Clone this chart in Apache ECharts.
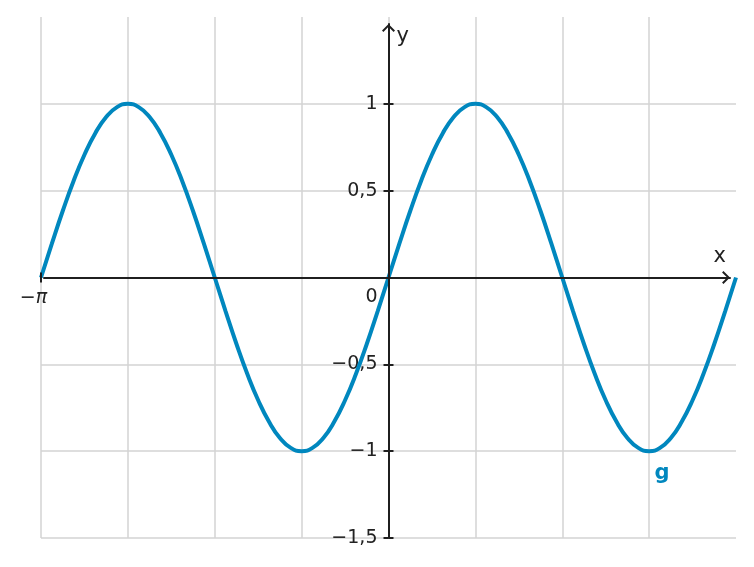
<!DOCTYPE html>
<html><head><meta charset="utf-8">
<script src="https://cdn.jsdelivr.net/npm/echarts@6/dist/echarts.min.js"></script>
<style>html,body{margin:0;padding:0;background:#fff}#c{width:754px;height:567px}</style>
</head><body><div id="c"></div>
<script>
// x values in multiples of π
const xValues = [-1, -0.96875, -0.9375, -0.90625, -0.875, -0.84375, -0.8125, -0.78125,
  -0.75, -0.71875, -0.6875, -0.65625, -0.625, -0.59375, -0.5625, -0.53125,
  -0.5, -0.46875, -0.4375, -0.40625, -0.375, -0.34375, -0.3125, -0.28125,
  -0.25, -0.21875, -0.1875, -0.15625, -0.125, -0.09375, -0.0625, -0.03125,
  0, 0.03125, 0.0625, 0.09375, 0.125, 0.15625, 0.1875, 0.21875,
  0.25, 0.28125, 0.3125, 0.34375, 0.375, 0.40625, 0.4375, 0.46875,
  0.5, 0.53125, 0.5625, 0.59375, 0.625, 0.65625, 0.6875, 0.71875,
  0.75, 0.78125, 0.8125, 0.84375, 0.875, 0.90625, 0.9375, 0.96875, 1];
const gValues = [0, 0.195, 0.383, 0.556, 0.707, 0.831, 0.924, 0.981,
  1, 0.981, 0.924, 0.831, 0.707, 0.556, 0.383, 0.195,
  0, -0.195, -0.383, -0.556, -0.707, -0.831, -0.924, -0.981,
  -1, -0.981, -0.924, -0.831, -0.707, -0.556, -0.383, -0.195,
  0, 0.195, 0.383, 0.556, 0.707, 0.831, 0.924, 0.981,
  1, 0.981, 0.924, 0.831, 0.707, 0.556, 0.383, 0.195,
  0, -0.195, -0.383, -0.556, -0.707, -0.831, -0.924, -0.981,
  -1, -0.981, -0.924, -0.831, -0.707, -0.556, -0.383, -0.195, 0];
const yLabelValues = [-1.5, -1, -0.5, 0, 0.5, 1];
const yTickValues = [-1.5, -1, -0.5, 0.5, 1];
const xLabelValues = [-1];
const seriesName = 'g';
const gLabelIndex = 56;

const FONT = 'DejaVu Sans';
const AXIS = '#1f1f1f';
const TEXT = '#222222';
const GRIDC = '#d3d3d3';
const CURVE = '#0087be';
const HIDDEN_LINE = {color: 'rgba(0,0,0,0)', width: 1, opacity: 0};
const chevron = 'path://M6.5,0L13,6.5L11.6,7.9L6.5,2.8L1.4,7.9L0,6.5Z';

function fmtNum(v) {
  return (v < 0 ? '\u2212' : '') + String(Math.abs(v)).replace('.', ',');
}

// main grid geometry -> auxiliary axis-line grid ranges and axis offsets
const main = {left: 41, right: 18, top: 17, bottom: 29};
const W = 754, H = 567;
const pxPerX = (W - main.left - main.right) / 2;
const pxPerY = (H - main.top - main.bottom) / 3;
const zeroX = main.left + pxPerX;
const zeroY = main.top + 1.5 * pxPerY;
const yAxisOffset = -(zeroX - main.left);
const xAxisOffset = -((H - main.bottom) - zeroY);
const aux = {left: 44, right: 24, top: 24, bottom: 29};
const auxXMin = (aux.left - zeroX) / pxPerX;
const auxXMax = (W - aux.right - zeroX) / pxPerX;
const auxYMax = -1.5 + (H - aux.top - aux.bottom) / pxPerY;

const chart = echarts.init(document.getElementById('c'), null, {renderer: 'canvas'});
chart.setOption({
  animation: false,
  backgroundColor: '#fff',
  textStyle: {fontFamily: FONT},
  grid: [
    Object.assign({outerBoundsMode: 'none', containLabel: false}, main),
    Object.assign({outerBoundsMode: 'none', containLabel: false}, aux)
  ],
  xAxis: [
    {
      gridIndex: 0, type: 'value', min: -1, max: 1, interval: 0.25,
      position: 'bottom', offset: xAxisOffset,
      axisLine: {show: true, onZero: false, lineStyle: HIDDEN_LINE},
      axisTick: {show: true, customValues: xLabelValues, length: 5, lineStyle: {color: AXIS, width: 2}},
      axisLabel: {
        show: true, customValues: xLabelValues, margin: 11,
        formatter: function () { return '\u2212{i|π}'; },
        color: TEXT, fontSize: 19, fontFamily: FONT, padding: [0, 15, 0, 0],
        rich: {i: {fontStyle: 'italic', fontSize: 19, fontFamily: FONT, color: TEXT}}
      },
      splitLine: {show: false},
      z: 5
    },
    {
      gridIndex: 1, type: 'value', min: auxXMin, max: auxXMax,
      axisLine: {show: true, onZero: true, symbol: ['none', chevron], symbolSize: [13, 8], symbolOffset: [0, -4],
        lineStyle: {color: AXIS, width: 2}},
      axisTick: {show: false}, axisLabel: {show: false}, splitLine: {show: false},
      name: '{n|x}', nameLocation: 'end', nameGap: -4,
      nameTextStyle: {color: TEXT, fontSize: 21, fontFamily: FONT, align: 'right', verticalAlign: 'middle',
        rich: {n: {color: TEXT, fontSize: 21, fontFamily: FONT, padding: [0, 0, 41, 0]}}},
      z: 5
    },
    {
      gridIndex: 0, type: 'value', min: -1, max: 1,
      position: 'bottom', offset: xAxisOffset,
      axisLine: {show: true, onZero: false, lineStyle: HIDDEN_LINE},
      axisTick: {show: true, inside: true, customValues: xLabelValues, length: 5, lineStyle: {color: AXIS, width: 2}},
      axisLabel: {show: false}, splitLine: {show: false},
      z: 5
    },
    {
      gridIndex: 0, type: 'value', min: -1, max: 1, interval: 0.25,
      axisLine: {show: false}, axisTick: {show: false}, axisLabel: {show: false},
      splitLine: {show: true, showMaxLine: false, lineStyle: {color: GRIDC, width: 1.5}},
      z: 0
    }
  ],
  yAxis: [
    {
      gridIndex: 0, type: 'value', min: -1.5, max: 1.5, interval: 0.5,
      position: 'left', offset: yAxisOffset,
      axisLine: {show: true, onZero: false, lineStyle: HIDDEN_LINE},
      axisTick: {show: true, customValues: yTickValues, length: 5, lineStyle: {color: AXIS, width: 2}},
      axisLabel: {
        show: true, customValues: yLabelValues, margin: 11,
        color: TEXT, fontSize: 19, fontFamily: FONT,
        formatter: function (v) { return v === 0 ? '{z|0}' : fmtNum(v); },
        rich: {z: {padding: [40, 0, 0, 0], fontSize: 19, fontFamily: FONT, color: TEXT}}
      },
      splitLine: {show: true, lineStyle: {color: GRIDC, width: 1.5}},
      z: 0
    },
    {
      gridIndex: 1, type: 'value', min: -1.5, max: auxYMax,
      axisLine: {show: true, onZero: true, symbol: ['none', chevron], symbolSize: [13, 8], symbolOffset: [0, -4],
        lineStyle: {color: AXIS, width: 2}},
      axisTick: {show: true, inside: true, customValues: yTickValues, length: 5, lineStyle: {color: AXIS, width: 2}},
      axisLabel: {show: false}, splitLine: {show: false},
      name: 'y', nameLocation: 'end', nameGap: -13,
      nameTextStyle: {color: TEXT, fontSize: 21, fontFamily: FONT, align: 'left', verticalAlign: 'middle', padding: [0, 0, 0, 8]},
      z: 5
    }
  ],
  series: [{
    name: seriesName, type: 'line', xAxisIndex: 0, yAxisIndex: 0,
    data: xValues.map((x, i) => [x, gValues[i]]),
    smooth: true, showSymbol: false, symbol: 'none',
    lineStyle: {color: CURVE, width: 4},
    z: 3,
    markPoint: {
      symbol: 'circle', symbolSize: 0, silent: true,
      data: [{coord: [xValues[gLabelIndex], gValues[gLabelIndex]], value: seriesName}],
      label: {show: true, position: 'inside', offset: [13, 22], formatter: seriesName,
        color: CURVE, fontWeight: 'bold', fontSize: 21, fontFamily: FONT}
    }
  }]
});
</script></body></html>
